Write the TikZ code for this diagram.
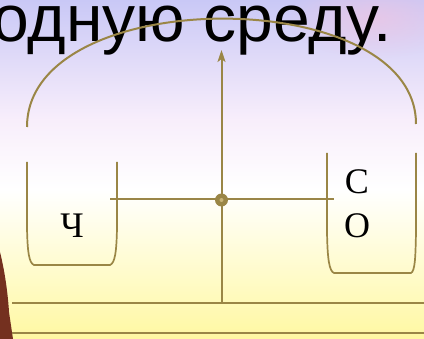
\documentclass[tikz,border=0pt]{standalone}
\usepackage{fontspec}
\setmainfont{Liberation Serif}
\newfontfamily\headfont{Liberation Sans}
\usetikzlibrary{arrows.meta, fadings}

\definecolor{olive}{HTML}{9A8646}
\definecolor{olivelight}{HTML}{C9B477}
\definecolor{lavender}{HTML}{C9C8F6}
\definecolor{pinkish}{HTML}{F8EEFB}
\definecolor{blush}{HTML}{F2C4E0}
\definecolor{paleyellow}{HTML}{FFF8A2}
\definecolor{bark}{HTML}{74301F}

\tikzfading[name=softspot, inner color=transparent!35, outer color=transparent!100]

\tikzset{
    line/.style={olive, line width=2pt},
    vessel/.style={olive, line width=1.7pt},
    letter/.style={font=\fontsize{36}{40}\selectfont, inner sep=0pt},
}

\begin{document}
\begin{tikzpicture}[x=1pt, y=-1pt]
    % Background
    \useasboundingbox (0,0) rectangle (424,339);
    \shade[top color=lavender, bottom color=pinkish] (0,0) rectangle (424,120);
    \shade[top color=pinkish, bottom color=white] (0,120) rectangle (424,190);
    \shade[top color=white, bottom color=paleyellow] (0,190) rectangle (424,339);
    \fill[blush, path fading=softspot] (375,18) ellipse (90pt and 40pt);
    \fill[bark] (0,252) .. controls (5,272) and (8,295) .. (9,312) -- (13,339) -- (0,339) -- cycle;

    % Title
    \node[font=\headfont\fontsize{66}{72}\selectfont, anchor=base east, inner sep=0pt] (title) at (392,42) {родную среду.};

    % Coordinates
    \coordinate (arcL) at (27,127);
    \coordinate (arcR) at (416,124);
    \coordinate (base) at (221.5,303);
    \coordinate (tip) at (221.5,50);
    \coordinate (armL) at (110,199);
    \coordinate (armR) at (334,199);
    \coordinate (floorA) at (12,303);
    \coordinate (floorB) at (424,303);
    \coordinate (floorC) at (12,333);
    \coordinate (floorD) at (424,333);

    % Arc
    \draw[line] (arcL) .. controls (27,-17) and (416,-17) .. (arcR);

    % Vessels
    \draw[vessel] (27,162) -- (27,228) .. controls (27.5,252) and (29,263) .. (34,265)
        -- (110,265) .. controls (115,263) and (116.5,252) .. (117,228) -- (117,162);
    \draw[vessel] (327,153) -- (327,232) .. controls (327.5,258) and (329,271) .. (334,273)
        -- (411,273) .. controls (415,271) and (415.5,258) .. (416,232) -- (416,153);

    % Letters
    \node[letter] (ch) at (72,226) {Ч};
    \node[letter] (es) at (357,182) {С};
    \node[letter] (o) at (357,226) {О};

    % Axis and arm
    \draw[line] (floorA) -- (floorB);
    \draw[line] (floorC) -- (floorD);
    \draw[line, -{Stealth[length=12pt, width=8pt, inset=3pt]}] (base) -- (tip);
    \draw[line] (armL) -- (armR);
    \node[circle, fill=olive, minimum size=13pt, inner sep=0pt] (pivot) at (221.5,200) {};
    \fill[olivelight] (pivot.center) circle (2pt);
\end{tikzpicture}
\end{document}
